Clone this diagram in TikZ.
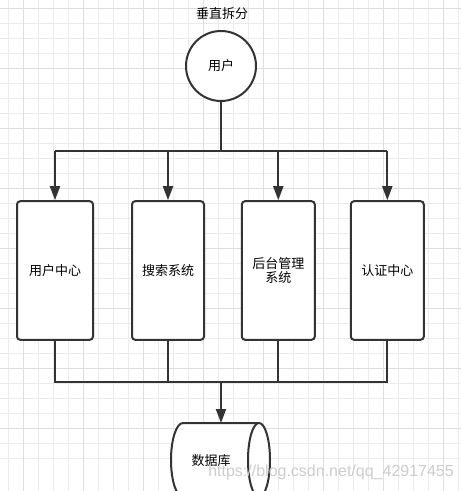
\documentclass[tikz,border=0pt]{standalone}
\usepackage{fontspec}
\newfontfamily\cjk{Noto Sans CJK SC}
\setsansfont{Liberation Sans}
\usetikzlibrary{arrows.meta}
\definecolor{lc}{HTML}{333333}
\definecolor{gminor}{HTML}{EBEBEB}
\definecolor{gmajor}{HTML}{DEDEDE}
\definecolor{wmc}{HTML}{CDCDCD}
\tikzset{
  px/.style={x=0.75pt,y=-0.75pt},
  conn/.style={draw=lc,line width=1.5pt},
  arr/.style={conn,-{Triangle[width=7.5pt,length=10.5pt]}},
  sysbox/.style={draw=lc,line width=1.5pt,rounded corners=2.5pt,fill=white,
    minimum width=55.5pt,minimum height=104pt,inner sep=0pt,
    font=\cjk\fontsize{9.75}{12}\selectfont,text=black,align=center},
  lbl/.style={font=\cjk\fontsize{9.75}{12}\selectfont,text=black,align=center,inner sep=0pt},
}
\begin{document}
\begin{tikzpicture}[px]
\useasboundingbox (0,0) rectangle (461,491);
\fill[white] (0,0) rectangle (461,491);
\begin{scope}
\clip (0,0) rectangle (461,491);
% grid
\foreach \i in {0,...,30} {
  \draw[gminor,line width=0.75pt] ({8.3+15*\i},0) -- ({8.3+15*\i},491);
  \draw[gminor,line width=0.75pt] (0,{8.3+15*\i}) -- (461,{8.3+15*\i});
}
\foreach \i in {0,...,7} {
  \draw[gmajor,line width=0.75pt] ({23.3+60*\i},0) -- ({23.3+60*\i},491);
  \draw[gmajor,line width=0.75pt] (0,{8.3+60*\i}) -- (461,{8.3+60*\i});
}

% title
\node[lbl] (title) at (222,14) {垂直拆分};

% user circle
\node[circle,draw=lc,line width=1.5pt,fill=white,minimum size=52.5pt,inner sep=0pt,
  font=\cjk\fontsize{9.75}{12}\selectfont] (user) at (221,66) {用户};

% boxes
\node[sysbox,minimum width=57pt] (b1) at (55,270.5) {用户中心};
\node[sysbox,minimum width=54pt] (b2) at (168,270.5) {搜索系统};
\node[sysbox,minimum width=54.75pt] (b3) at (278.3,270.5) {后台管理\\[-1pt]系统};
\node[sysbox,minimum width=54.75pt] (b4) at (387.3,270.5) {认证中心};

% junction coordinates
\coordinate (top) at (221,151.5);
\coordinate (bot) at (221,382.3);

% top distribution
\draw[conn] (user.south) -- (top);
\draw[conn] (b1.north |- top) -- (b4.north |- top);
\draw[arr] (b1.north |- top) -- (b1.north);
\draw[arr] (b2.north |- top) -- (b2.north);
\draw[arr] (b3.north |- top) -- (b3.north);
\draw[arr] (b4.north |- top) -- (b4.north);

% bottom collection
\draw[conn] (b1.south) -- (b1.south |- bot) -- (b4.south |- bot) -- (b4.south);
\draw[conn] (b2.south) -- (b2.south |- bot);
\draw[conn] (b3.south) -- (b3.south |- bot);

% database (horizontal cylinder)
\coordinate (dbtop) at (221,423);
\draw[lc,line width=1.5pt,fill=white] (259,423) -- (183,423)
  arc[start angle=90,end angle=270,x radius=9pt,y radius=27.75pt] -- (259,497);
\draw[lc,line width=1.5pt,fill=white] (259,460) ellipse [x radius=8.25pt,y radius=27.75pt];
\node[lbl] (db) at (211,461) {数据库};
\draw[arr] (bot) -- (dbtop);

% watermark
\node[font=\sffamily\fontsize{12}{14}\selectfont,text=wmc,inner sep=0pt,anchor=west] (wm) at (208,472) {https://blog.csdn.net/qq\_42917455};
\end{scope}
\end{tikzpicture}
\end{document}
